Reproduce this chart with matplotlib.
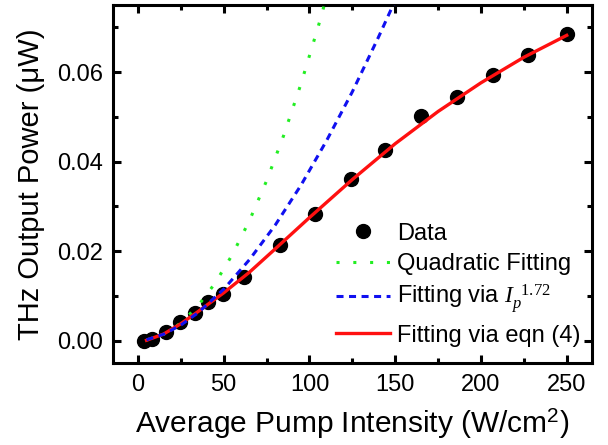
import matplotlib
matplotlib.use("Agg")
import matplotlib.pyplot as plt
from matplotlib.ticker import MultipleLocator

plt.rcParams["font.family"] = ["Liberation Sans", "DejaVu Sans"]
plt.rcParams["mathtext.fontset"] = "custom"
plt.rcParams["mathtext.rm"] = "Liberation Serif"
plt.rcParams["mathtext.it"] = "Liberation Serif:italic"
plt.rcParams["mathtext.sf"] = "Liberation Sans"

# measured data points
intensity = [3.4, 8.1, 16.1, 24.4, 33.0, 41.0, 49.5, 61.8, 82.6, 103.2,
             124.0, 144.3, 165.2, 186.2, 206.8, 227.4, 250.0]
power = [0.0000, 0.0003, 0.0019, 0.0042, 0.0062, 0.0086, 0.0104, 0.0143, 0.0213,
         0.0284, 0.0361, 0.0427, 0.0501, 0.0545, 0.0594, 0.0638, 0.0684]

# quadratic fit
quad_x = [5, 15, 25, 35, 45, 55, 65, 75, 85, 95, 105, 110]
quad_y = [0.00016, 0.00143, 0.00397, 0.00778, 0.01286, 0.01921, 0.02683,
          0.03572, 0.04588, 0.05731, 0.07001, 0.07684]

# fit via Ip^1.72
pow_x = [5, 15, 25, 35, 50, 65, 80, 95, 110, 125, 140, 150]
pow_y = [0.00022, 0.00145, 0.00349, 0.00623, 0.0115, 0.0181, 0.0258, 0.0347,
         0.0447, 0.0556, 0.0676, 0.0760]

# fit via eqn (4)
eqn_x = [5, 15, 25, 35, 50, 65, 80, 100, 125, 150, 175, 200, 225, 250]
eqn_y = [0.0001, 0.0015, 0.0038, 0.0065, 0.0107, 0.0153, 0.0205, 0.0275,
         0.0360, 0.0440, 0.0512, 0.0576, 0.0633, 0.0682]

fig = plt.figure(figsize=(6.08, 4.45), dpi=100)
ax = fig.add_axes([0.186, 0.184, 0.787, 0.805])

ax.plot(intensity, power, "o", color="black", markersize=10, label="Data", zorder=2)
ax.plot(quad_x, quad_y, color="#22ee22", lw=2.2, linestyle=(0, (1, 4.5)),
        label="Quadratic Fitting", zorder=3)
ax.plot(pow_x, pow_y, color="#1010f0", lw=2.2, linestyle=(0, (2.3, 1.8)),
        label=r"Fitting via $\mathit{I}_{p}^{\;\;1.72}$", zorder=4)
ax.plot(eqn_x, eqn_y, color="#ff1010", lw=2.4, label="Fitting via eqn (4)", zorder=3)

ax.set_xlim(-14.5, 264.5)
ax.set_ylim(-0.005, 0.075)
ax.xaxis.set_major_locator(MultipleLocator(50))
ax.xaxis.set_minor_locator(MultipleLocator(25))
ax.yaxis.set_major_locator(MultipleLocator(0.02))
ax.yaxis.set_minor_locator(MultipleLocator(0.01))
ax.yaxis.set_major_formatter(plt.FormatStrFormatter("%.2f"))

for s in ax.spines.values():
    s.set_linewidth(2.2)
ax.tick_params(which="both", direction="in", top=True, right=True, width=2.2,
               labelsize=17)
ax.tick_params(which="major", length=6)
ax.tick_params(which="minor", length=3.5)
ax.tick_params(axis="y", pad=7)
ax.tick_params(axis="x", pad=8)

ax.set_xlabel(r"Average Pump Intensity (W/cm$^\mathsf{2}$)", fontsize=21.5, labelpad=8)
ax.set_ylabel("THz Output Power (\u03bcW)", fontsize=21, labelpad=9)

ax.legend(loc="upper left", bbox_to_anchor=(0.466, 0.392), frameon=False,
          fontsize=17, handlelength=2.3, handletextpad=0.3, labelspacing=0.35,
          borderpad=0, borderaxespad=0, numpoints=1)

fig.savefig("out.png", dpi=100)
